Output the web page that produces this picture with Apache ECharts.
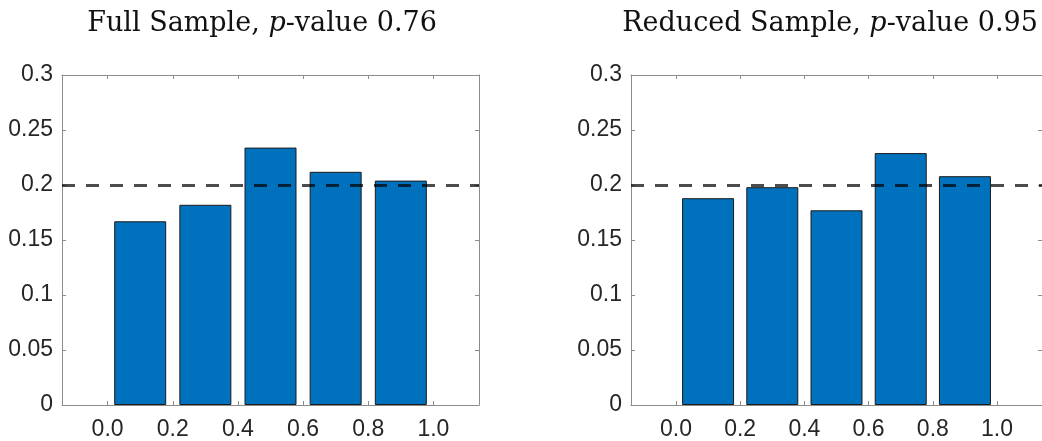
<!DOCTYPE html>
<html>
<head>
<meta charset="utf-8">
<script src="https://cdn.jsdelivr.net/npm/echarts@6/dist/echarts.min.js"></script>
<style>
html,body{margin:0;padding:0;background:#fff;}
#chart{width:1042px;height:441px;}
</style>
</head>
<body>
<div id="chart"></div>
<script>
// ---- data ----
const binCenters = [0.1, 0.3, 0.5, 0.7, 0.9];
const fullSample = [0.167, 0.182, 0.234, 0.212, 0.204];
const reducedSample = [0.188, 0.198, 0.177, 0.229, 0.208];
const xTicks = [0.0, 0.2, 0.4, 0.6, 0.8, 1.0];
const yTicks = [0, 0.05, 0.1, 0.15, 0.2, 0.25, 0.3];
const uniformLevel = 0.2;
const titleFull = ['Full Sample, ', 'p', '-value 0.76'];
const titleReduced = ['Reduced Sample, ', 'p', '-value 0.95'];

const chart = echarts.init(document.getElementById('chart'), null, {renderer: 'canvas'});

const axisGray = '#8c8c8c';
const labelColor = '#262626';
const labelFont = 'Liberation Sans, Arial, sans-serif';
const titleFont = 'DejaVu Serif, serif';

const grids = [
  {left: 62, top: 75, width: 417, height: 330},
  {left: 631, top: 75, width: 417, height: 330}
];

function xAxes(gi) {
  return [
    {
      type: 'value', gridIndex: gi, position: 'bottom', min: -0.14, max: 1.14,
      axisLine: {show: true, onZero: false, lineStyle: {color: axisGray, width: 1}},
      axisTick: {show: true, inside: true, length: 4, customValues: xTicks, lineStyle: {color: axisGray}},
      axisLabel: {show: true, customValues: xTicks, formatter: v => v.toFixed(1), color: labelColor,
                  fontSize: 23, fontFamily: labelFont, margin: 13},
      splitLine: {show: false}
    },
    {
      type: 'value', gridIndex: gi, position: 'top', min: -0.14, max: 1.14,
      axisLine: {show: true, onZero: false, lineStyle: {color: axisGray, width: 1}},
      axisTick: {show: true, inside: true, length: 4, customValues: xTicks, lineStyle: {color: axisGray}},
      axisLabel: {show: false},
      splitLine: {show: false}
    }
  ];
}
function yAxes(gi) {
  return [
    {
      type: 'value', gridIndex: gi, position: 'left', min: 0, max: 0.3, interval: 0.05,
      axisLine: {show: true, onZero: false, lineStyle: {color: axisGray, width: 1}},
      axisTick: {show: true, inside: true, length: 4, customValues: yTicks, lineStyle: {color: axisGray}},
      axisLabel: {show: true, customValues: yTicks, color: labelColor, fontSize: 23, fontFamily: labelFont, margin: 9},
      splitLine: {show: false}
    },
    {
      type: 'value', gridIndex: gi, position: 'right', min: 0, max: 0.3, interval: 0.05,
      axisLine: {show: true, onZero: false, lineStyle: {color: axisGray, width: 1}},
      axisTick: {show: true, inside: true, length: 4, customValues: yTicks, lineStyle: {color: axisGray}},
      axisLabel: {show: false},
      splitLine: {show: false}
    }
  ];
}

function barSeries(gi, values) {
  return {
    type: 'bar',
    xAxisIndex: gi * 2, yAxisIndex: gi * 2,
    data: binCenters.map((c, i) => [c, values[i]]),
    barWidth: 52,
    itemStyle: {color: '#0072BD', borderColor: '#1a1a1a', borderWidth: 1},
    silent: true,
    markLine: {
      silent: true, symbol: 'none', animation: false,
      label: {show: false},
      lineStyle: {type: [13, 11], width: 3, color: 'rgba(0,0,0,0.7)'},
      data: [{yAxis: uniformLevel}]
    }
  };
}

function titleGraphic(cx, parts) {
  return {
    type: 'text', x: cx, y: 37,
    style: {
      text: '{n|' + parts[0] + '}{i|' + parts[1] + '}{n|' + parts[2] + '}',
      align: 'center', verticalAlign: 'bottom',
      rich: {
        n: {fontFamily: titleFont, fontSize: 27, fill: '#111'},
        i: {fontFamily: titleFont, fontSize: 27, fontStyle: 'italic', fill: '#111'}
      }
    }
  };
}

chart.setOption({
  animation: false,
  grid: grids,
  xAxis: [...xAxes(0), ...xAxes(1)],
  yAxis: [...yAxes(0), ...yAxes(1)],
  series: [barSeries(0, fullSample), barSeries(1, reducedSample)],
  graphic: [titleGraphic(262, titleFull), titleGraphic(830, titleReduced)]
});
</script>
</body>
</html>
